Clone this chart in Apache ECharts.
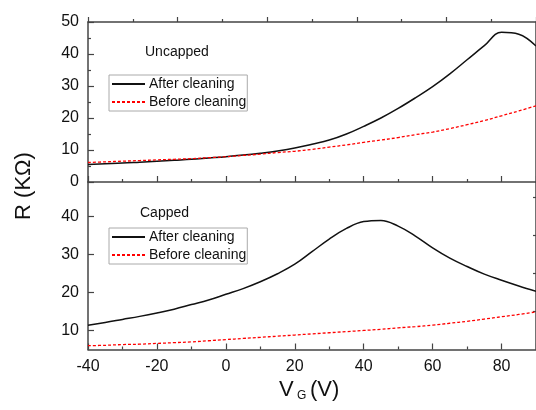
<!DOCTYPE html>
<html>
<head>
<meta charset="utf-8">
<script src="https://cdn.jsdelivr.net/npm/echarts@6/dist/echarts.min.js"></script>
<style>
  html, body { margin: 0; padding: 0; background: #fff; }
  #chart { width: 536px; height: 410px; }
</style>
</head>
<body>
<div id="chart"></div>
<script>
// gate voltage, V
const vg = [-40, -35, -30, -25, -20, -15, -10, -5, 0, 5, 10, 15, 20, 25, 30, 35, 40, 45, 50, 55, 60, 65, 70, 75, 80, 85, 90]

// uncapped, R in kOhm
const uncapAfter = [5.5, 5.7, 5.9, 6.2, 6.5, 6.8, 7.1, 7.5, 7.9, 8.4, 9.0, 9.7, 10.6, 11.8, 13.1, 15.0, 17.4, 20.0, 23.0, 26.3, 29.8, 33.8, 38.2, 42.6, 46.8, 46.2, 42.5]
const uncapBefore = [6.1, 6.3, 6.5, 6.7, 6.9, 7.1, 7.3, 7.6, 7.9, 8.3, 8.7, 9.2, 9.6, 10.2, 10.9, 11.6, 12.4, 13.1, 13.9, 14.8, 15.6, 16.7, 17.9, 19.2, 20.7, 22.2, 23.8]

// capped, R in kOhm
const capAfter = [11.4, 12.1, 12.9, 13.7, 14.6, 15.6, 16.8, 18.0, 19.5, 21.0, 22.8, 24.9, 27.4, 30.7, 34.0, 36.8, 38.6, 38.9, 37.4, 34.8, 31.7, 29.0, 26.8, 24.8, 23.2, 21.7, 20.3]
const capBefore = [6.0, 6.1, 6.3, 6.4, 6.6, 6.8, 7.0, 7.3, 7.6, 7.9, 8.2, 8.5, 8.8, 9.1, 9.4, 9.7, 10.0, 10.3, 10.7, 11.0, 11.4, 11.9, 12.4, 13.0, 13.6, 14.2, 14.9]

const capTicks = [10, 20, 30, 40]
const capMinor = [15, 25, 35, 45]

const pairs = arr => vg.map((v, i) => [v, arr[i]])

const axisCol = '#444'
const font = 'Liberation Sans, Arial, sans-serif'

let chart = echarts.init(document.getElementById('chart'))

const lineAxis = () => ({ show: true, onZero: false, lineStyle: { color: axisCol, width: 1.5 } })
// negative length sends the tick outward
const tick = len => ({ show: true, length: len, lineStyle: { color: axisCol, width: 1.2 } })
const minor = len => ({ show: true, splitNumber: 2, length: len, lineStyle: { color: axisCol, width: 1.2 } })

const xBase = (grid, showLabel) => ({
    type: 'value',
    gridIndex: grid,
    position: 'bottom',
    min: -40,
    max: 90,
    interval: 20,
    axisLine: lineAxis(),
    axisTick: tick(-6),
    minorTick: minor(-3),
    splitLine: { show: false },
    axisLabel: {
        show: showLabel,
        showMaxLabel: false,
        margin: 9,
        color: '#111',
        fontSize: 16,
        fontFamily: font
    }
})

const legendBase = top => ({
    orient: 'vertical',
    left: 109,
    top: top,
    data: ['After cleaning', 'Before cleaning'],
    itemWidth: 33,
    itemHeight: 14,
    itemGap: 4,
    padding: [2, 1, 2, 2],
    borderColor: '#aaa',
    borderWidth: 1,
    selectedMode: false,
    itemStyle: { opacity: 0 },
    textStyle: { fontSize: 14, color: '#111', fontFamily: font, padding: [0, 0, 0, -1] }
})

chart.setOption({
    animation: false,
    grid: [
        { left: 88, top: 22, width: 453.5, height: 160 },
        { left: 88, top: 182, width: 453.5, height: 167.5 }
    ],
    xAxis: [
        xBase(0, false),
        xBase(1, true),
        {
            type: 'value',
            gridIndex: 0,
            position: 'top',
            min: 0,
            max: 5,
            interval: 1,
            axisLine: lineAxis(),
            axisTick: tick(5),
            minorTick: minor(3),
            splitLine: { show: false },
            axisLabel: { show: false }
        }
    ],
    yAxis: [
        {
            type: 'value',
            gridIndex: 0,
            min: 0,
            max: 50,
            interval: 10,
            axisLine: lineAxis(),
            axisTick: tick(-6),
            minorTick: minor(-3),
            splitLine: { show: false },
            axisLabel: { margin: 9, color: '#111', fontSize: 16, fontFamily: font }
        },
        {
            type: 'value',
            gridIndex: 1,
            min: 5,
            max: 49,
            axisLine: lineAxis(),
            axisTick: Object.assign(tick(-6), { customValues: capTicks }),
            splitLine: { show: false },
            axisLabel: { margin: 9, customValues: capTicks, color: '#111', fontSize: 16, fontFamily: font }
        },
        {
            type: 'value',
            gridIndex: 1,
            min: 5,
            max: 49,
            axisLine: { show: false, onZero: false },
            axisTick: Object.assign(tick(-3), { customValues: capMinor }),
            splitLine: { show: false },
            axisLabel: { show: false }
        },
        {
            type: 'value',
            gridIndex: 0,
            position: 'right',
            min: 0,
            max: 50,
            interval: 10,
            axisLine: lineAxis(),
            axisTick: tick(5),
            minorTick: minor(3),
            splitLine: { show: false },
            axisLabel: { show: false }
        },
        {
            type: 'value',
            gridIndex: 1,
            position: 'right',
            min: 5,
            max: 49,
            axisLine: lineAxis(),
            axisTick: Object.assign(tick(5), { customValues: capTicks }),
            splitLine: { show: false },
            axisLabel: { show: false }
        }
    ],
    legend: [legendBase(75), legendBase(228)],
    graphic: [
        { type: 'text', left: 145, top: 45, style: { text: 'Uncapped', fontSize: 14, fontFamily: font, fill: '#111' } },
        { type: 'text', left: 140, top: 206, style: { text: 'Capped', fontSize: 14, fontFamily: font, fill: '#111' } },
        {
            type: 'text', x: 24, y: 186, rotation: Math.PI / 2,
            style: { text: 'R (KΩ)', fontSize: 22, fontFamily: font, fill: '#111', align: 'center', verticalAlign: 'middle' }
        },
        { type: 'text', left: 279, top: 379, style: { text: 'V', fontSize: 22, fontFamily: font, fill: '#111' } },
        { type: 'text', left: 297, top: 390, style: { text: 'G', fontSize: 12, fontFamily: font, fill: '#111' } },
        { type: 'text', left: 310, top: 379, style: { text: '(V)', fontSize: 22, fontFamily: font, fill: '#111' } }
    ],
    series: [
        {
            name: 'After cleaning', type: 'line', xAxisIndex: 0, yAxisIndex: 0,
            data: pairs(uncapAfter), smooth: 0.4, symbol: 'none',
            lineStyle: { color: '#111', width: 1.5 }, itemStyle: { color: '#111' }
        },
        {
            name: 'Before cleaning', type: 'line', xAxisIndex: 0, yAxisIndex: 0,
            data: pairs(uncapBefore), smooth: 0.4, symbol: 'none',
            lineStyle: { color: '#ff0000', width: 1.3, type: [3, 2] }, itemStyle: { color: '#ff0000' }
        },
        {
            name: 'After cleaning', type: 'line', xAxisIndex: 1, yAxisIndex: 1,
            data: pairs(capAfter), smooth: 0.4, symbol: 'none',
            lineStyle: { color: '#111', width: 1.5 }, itemStyle: { color: '#111' }
        },
        {
            name: 'Before cleaning', type: 'line', xAxisIndex: 1, yAxisIndex: 1,
            data: pairs(capBefore), smooth: 0.4, symbol: 'none',
            lineStyle: { color: '#ff0000', width: 1.3, type: [3, 2] }, itemStyle: { color: '#ff0000' }
        }
    ]
})
</script>
</body>
</html>
